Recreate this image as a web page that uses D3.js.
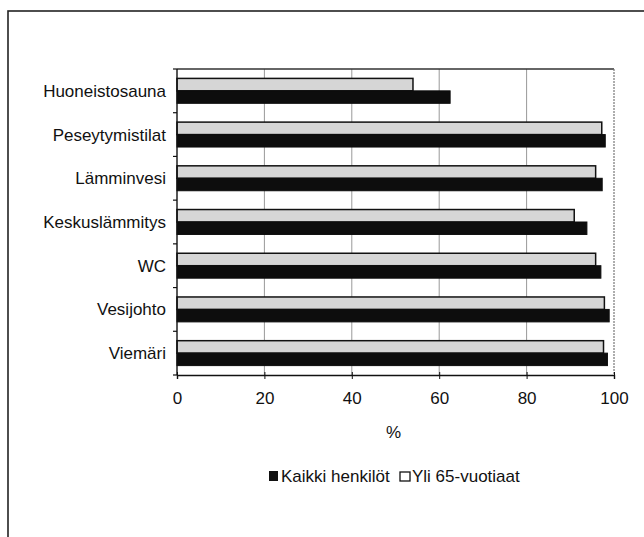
<!DOCTYPE html>
<html><head><meta charset="utf-8">
<script src="https://cdn.jsdelivr.net/npm/d3@7"></script>
<style>body{margin:0;background:#fff}</style>
</head><body>
<svg id="c" width="644" height="537"></svg>
<script>
const categories = ["Huoneistosauna","Peseytymistilat","Lämminvesi","Keskuslämmitys","WC","Vesijohto","Viemäri"];
const kaikki = [62.5, 98.0, 97.3, 93.8, 97.0, 98.9, 98.5];
const yli65 = [54.0, 97.2, 95.8, 90.9, 95.8, 97.8, 97.6];
const xTicks = [0,20,40,60,80,100];
const seriesNames = ["Kaikki henkilöt","Yli 65-vuotiaat"];

const svg = d3.select("#c");
const font = "Liberation Sans, Arial, sans-serif";
const L=177, R=614, T=69, B=375;

// outer frame
svg.append("rect").attr("x",8).attr("y",11).attr("width",720).attr("height",620)
  .attr("fill","none").attr("stroke","#222").attr("stroke-width",1.6);

const x = d3.scaleLinear().domain([0,100]).range([L,R]);
const y = d3.scaleBand().domain(categories).range([T,B]).paddingInner(0.43).paddingOuter(0.215);
const sub = d3.scaleBand().domain(["yli","kaikki"]).range([0,y.bandwidth()]);

// gridlines
svg.append("g").selectAll("line").data(xTicks.slice(1,-1)).join("line")
  .attr("x1",d=>x(d)).attr("x2",d=>x(d)).attr("y1",T).attr("y2",B)
  .attr("stroke","#999").attr("stroke-width",1);

// plot border top and right
svg.append("line").attr("x1",L).attr("x2",R).attr("y1",T).attr("y2",T).attr("stroke","#333").attr("stroke-width",1.3);
svg.append("line").attr("x1",R).attr("x2",R).attr("y1",T).attr("y2",B).attr("stroke","#777").attr("stroke-width",1.2).attr("stroke-dasharray","2,1");

// bars
const g = svg.append("g");
g.selectAll("rect.y").data(categories).join("rect").attr("class","y")
  .attr("x",x(0)).attr("y",d=>y(d)+sub("yli"))
  .attr("width",(d,i)=>x(yli65[i])-x(0)).attr("height",sub.bandwidth())
  .attr("fill","#d6d6d6").attr("stroke","#111").attr("stroke-width",1.5);
g.selectAll("rect.k").data(categories).join("rect").attr("class","k")
  .attr("x",x(0)).attr("y",d=>y(d)+sub("kaikki"))
  .attr("width",(d,i)=>x(kaikki[i])-x(0)).attr("height",sub.bandwidth())
  .attr("fill","#0d0d0d").attr("stroke","#0d0d0d").attr("stroke-width",1);

// x axis
const xa = svg.append("g").attr("transform",`translate(0,${B})`)
  .call(d3.axisBottom(x).tickValues(xTicks).tickSize(4).tickPadding(13));
xa.select(".domain").attr("stroke","#111").attr("stroke-width",1.4);
xa.selectAll(".tick line").attr("stroke","#111").attr("y1",-3).attr("y2",4);
xa.selectAll("text").attr("font-family",font).attr("font-size",17).attr("fill","#111");

// y axis
svg.append("line").attr("x1",L).attr("x2",L).attr("y1",T).attr("y2",B).attr("stroke","#111").attr("stroke-width",1.4);
const bounds = categories.map(c=>y(c)-y.step()*y.paddingInner()/2).concat([B]);
svg.append("g").selectAll("line").data(bounds).join("line")
  .attr("x1",L-4).attr("x2",L).attr("y1",d=>d).attr("y2",d=>d).attr("stroke","#111").attr("stroke-width",1.2);
svg.append("g").selectAll("text").data(categories).join("text")
  .attr("x",L-11).attr("y",d=>y(d)+y.bandwidth()/2).attr("dy","0.35em")
  .attr("text-anchor","end").attr("font-family",font).attr("font-size",17).attr("fill","#111")
  .text(d=>d);

// axis title
svg.append("text").attr("x",(L+R)/2-2).attr("y",438).attr("text-anchor","middle")
  .attr("font-family",font).attr("font-size",17).attr("fill","#111").text("%");

// legend
const lg = svg.append("g").attr("transform","translate(269,476)");
lg.append("rect").attr("x",0).attr("y",-5).attr("width",9).attr("height",10).attr("fill","#111");
lg.append("text").attr("x",12).attr("y",0).attr("dy","0.35em").attr("font-family",font).attr("font-size",17).attr("fill","#111").text(seriesNames[0]);
lg.append("rect").attr("x",131).attr("y",-4).attr("width",10).attr("height",9).attr("fill","#fff").attr("stroke","#111").attr("stroke-width",1.3);
lg.append("text").attr("x",143).attr("y",0).attr("dy","0.35em").attr("font-family",font).attr("font-size",17).attr("fill","#111").text(seriesNames[1]);
</script>
</body></html>
